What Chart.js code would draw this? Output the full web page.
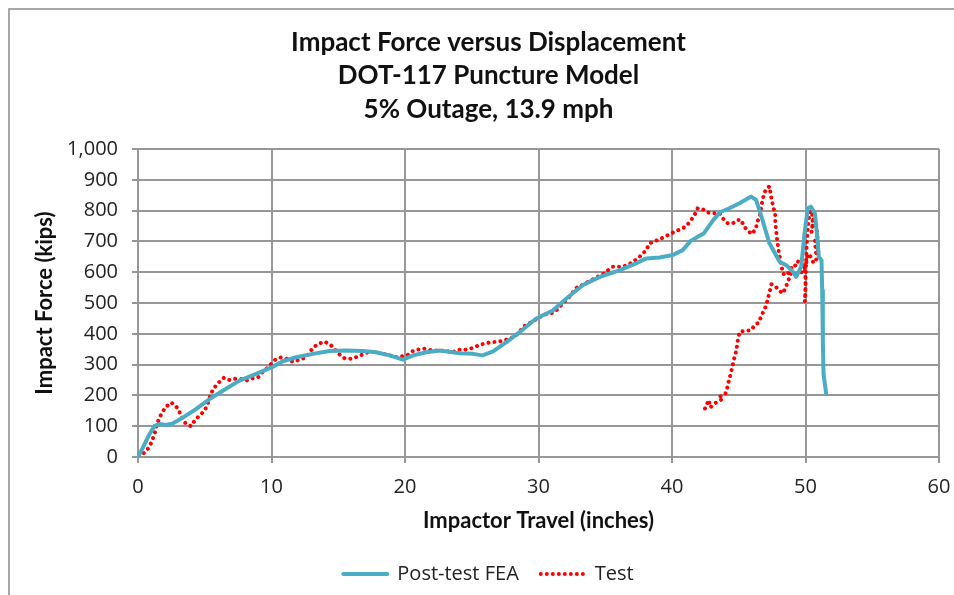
<!DOCTYPE html>
<html lang="en">
<head>
  <meta charset="UTF-8">
  <title>Impact Force versus Displacement</title>
  <script src="https://cdn.jsdelivr.net/npm/chart.js"></script>
  <style>
    body { margin: 0; padding: 0; background: #fff; }
    #wrap { width: 954px; height: 595px; }
  </style>
</head>
<body>
  <div id="wrap"><canvas id="forceChart" width="954" height="595"></canvas></div>

  <script>
    // Post-test FEA (inches, kips)
    const feaX = [0.04, 0.36, 0.86, 1.24, 1.61, 2.1, 2.6, 3.36, 4.36, 5.36, 6.35, 7.6, 8.85, 10.0, 10.85, 11.85,
      13.1, 14.35, 15.6, 16.84, 17.84, 18.84, 19.84, 20.6, 21.6, 22.6, 24.1, 25.1, 25.8, 26.6, 27.6, 28.6,
      29.8, 31.07, 32.07, 33.3, 34.6, 36.1, 37.3, 38.07, 39.06, 40.06, 40.8, 41.4, 42.4, 43.1, 43.6, 44.3,
      45.06, 45.93, 46.3, 46.7, 47.3, 48.06, 48.56, 49.06, 49.3, 49.68, 49.93, 50.17, 50.4, 50.7, 50.9,
      51.0, 51.2, 51.25, 51.3, 51.35, 51.55];
    const feaY = [3, 30, 74, 101, 107, 104, 109, 128, 156, 188, 215, 248, 270, 291, 311, 324,
      335, 344, 346, 344, 340, 330, 316, 330, 340, 346, 337, 335, 330, 343, 373, 406,
      449, 476, 514, 558, 585, 607, 629, 645, 648, 656, 672, 702, 727, 770, 795, 808,
      824, 846, 835, 781, 694, 634, 623, 601, 585, 618, 727, 808, 813, 792, 705,
      650, 639, 542, 378, 270, 205];

    // Test (inches, kips)
    const testX = [0.04, 0.49, 0.86, 1.06, 1.24, 1.36, 1.56, 1.81, 2.1, 2.49, 2.86, 3.1, 3.3, 3.6, 3.98, 4.23,
      4.56, 4.86, 5.16, 5.3, 5.48, 5.73, 6.05, 6.43, 6.85, 7.28, 7.73, 8.1, 8.55, 9.0, 9.35, 9.68,
      9.98, 10.28, 10.67, 11.17, 11.62, 12.15, 12.6, 12.85, 13.15, 13.55, 13.97, 14.42, 14.74, 15.04, 15.47, 15.97,
      16.46, 16.91, 17.34, 17.89, 18.34, 18.79, 19.21, 19.72, 20.16, 20.54, 20.99, 21.48, 21.96, 22.46, 23.03, 23.53,
      23.96, 24.46, 24.96, 25.66, 26.46, 27.08, 27.58, 28.2, 28.58, 28.82, 29.33, 29.83, 30.45, 31.07, 31.45, 31.82,
      32.32, 32.82, 33.32, 34.07, 34.82, 35.57, 36.2, 36.69, 37.44, 38.07, 38.31, 39.06, 39.57, 40.07, 40.49, 40.94,
      41.2, 41.44, 41.69, 41.93, 42.3, 42.68, 43.06, 43.56, 43.81, 44.18, 44.56, 44.94, 45.19, 45.37, 45.7, 45.96,
      46.26, 46.41, 46.59, 46.67, 46.79, 46.91, 47.04, 47.3, 47.37, 47.47, 47.62, 47.73, 47.73, 47.8, 47.85, 47.93,
      48.0, 48.1, 48.22, 48.3, 48.6, 48.9, 49.1, 49.3, 49.5, 49.7, 49.9, 50.0, 50.0, 49.95, 50.0, 50.05,
      50.1, 50.2, 50.35, 50.5, 50.55, 50.45, 50.6, 50.75, 50.85, 50.9, 50.95, 50.8, 50.7, 50.85, 50.9, 50.8,
      50.6, 50.4, 50.2, 50.0, 49.8, 49.5, 49.2, 48.93, 48.67, 48.5, 48.26, 48.0, 47.7, 47.45, 47.32, 47.2,
      47.07, 46.9, 46.7, 46.52, 46.19, 45.89, 45.51, 45.06, 44.94, 44.86, 44.76, 44.63, 44.51, 44.38, 44.25, 44.13,
      44.0, 43.56, 43.76, 43.39, 43.13, 42.88, 42.76, 42.51, 42.36];
    const testY = [3, 14, 33, 54, 74, 98, 123, 145, 163, 177, 164, 147, 126, 107, 100, 117,
      133, 145, 164, 185, 207, 226, 242, 257, 250, 254, 253, 248, 255, 259, 277, 289,
      302, 316, 323, 319, 309, 317, 324, 340, 357, 368, 375, 364, 350, 335, 321, 319,
      326, 335, 342, 340, 334, 332, 324, 327, 330, 343, 349, 352, 347, 346, 345, 340,
      348, 348, 353, 365, 373, 375, 381, 391, 406, 422, 435, 447, 463, 468, 480, 500,
      520, 549, 560, 577, 594, 618, 618, 623, 645, 672, 694, 707, 718, 729, 737, 746,
      757, 770, 786, 808, 805, 794, 792, 792, 775, 759, 759, 770, 770, 750, 735, 724,
      740, 765, 786, 808, 837, 855, 870, 879, 860, 835, 808, 786, 762, 737, 714, 688,
      667, 643, 618, 596, 590, 610, 625, 620, 640, 645, 620, 580, 540, 505, 560, 640,
      700, 760, 800, 790, 760, 730, 780, 770, 740, 710, 680, 660, 700, 720, 680, 640,
      630, 650, 660, 620, 600, 600, 590, 596, 569, 547, 531, 544, 555, 561, 538, 518,
      495, 476, 460, 438, 427, 411, 411, 406, 382, 359, 335, 316, 291, 268, 246, 224,
      205, 196, 188, 179, 172, 161, 185, 163, 141];

    const seriesNames = ['Post-test FEA', 'Test'];
    const titleLines = ['Impact Force versus Displacement', 'DOT-117 Puncture Model', '5% Outage, 13.9 mph'];
    const xTitle = 'Impactor Travel (inches)';
    const yTitle = 'Impact Force (kips)';

    const toPoints = (xs, ys) => xs.map((x, i) => ({ x: x, y: ys[i] }));

    const BOLD_FONT = 'Lato, "Open Sans", sans-serif';
    const TEXT_FONT = '"Open Sans", Lato, sans-serif';
    const gridColor = '#979797';

    // outer frame of the chart object
    const framePlugin = {
      id: 'frame',
      beforeDraw(chart) {
        const c = chart.ctx;
        c.save();
        c.fillStyle = '#fff';
        c.fillRect(0, 0, chart.width, chart.height);
        c.strokeStyle = '#8c8c8c';
        c.lineWidth = 1.5;
        c.strokeRect(9, 9, 2000, 2000);
        c.restore();
      }
    };

    new Chart(document.getElementById('forceChart'), {
      type: 'scatter',
      data: {
        datasets: [{
          label: seriesNames[0],
          data: toPoints(feaX, feaY),
          showLine: true,
          borderColor: '#4bacc6',
          backgroundColor: '#4bacc6',
          borderWidth: 4,
          borderCapStyle: 'round',
          borderJoinStyle: 'round',
          pointRadius: 0,
          tension: 0
        }, {
          label: seriesNames[1],
          data: toPoints(testX, testY),
          showLine: true,
          borderColor: '#ff0000',
          backgroundColor: '#ff0000',
          borderWidth: 4,
          borderDash: [0.01, 6],
          borderCapStyle: 'round',
          pointRadius: 0,
          tension: 0
        }]
      },
      options: {
        responsive: false,
        animation: false,
        layout: { padding: { left: 38, right: 15, top: 0, bottom: 1 } },
        scales: {
          x: {
            type: 'linear',
            min: 0,
            max: 60,
            afterFit(scale) { scale.height = 85; },
            ticks: { stepSize: 10, color: '#222', padding: 2,
              font: { family: TEXT_FONT, size: 20, lineHeight: 2.2 } },
            grid: { color: gridColor, lineWidth: 2, tickLength: 6 },
            border: { color: gridColor, width: 2 },
            title: {
              display: true, text: xTitle, color: '#111',
              font: { family: BOLD_FONT, size: 22, weight: 'bold', lineHeight: 1.2 },
              padding: { top: 8, bottom: 8 }
            }
          },
          y: {
            min: 0,
            max: 1000,
            afterFit(scale) { scale.width = 100; },
            ticks: { stepSize: 100, color: '#222', padding: 14, font: { family: TEXT_FONT, size: 20 },
              callback: v => v.toLocaleString('en-US') },
            grid: { color: gridColor, lineWidth: 2, tickLength: 6 },
            border: { color: gridColor, width: 2 },
            title: {
              display: true, text: yTitle, color: '#111',
              font: { family: BOLD_FONT, size: 22, weight: 'bold', lineHeight: 1.2 },
              padding: { top: -6, bottom: 0 }
            }
          }
        },
        plugins: {
          title: {
            display: true,
            text: titleLines,
            color: '#111',
            font: { family: BOLD_FONT, size: 26, weight: 'bold', lineHeight: 1.29 },
            padding: { top: 25.5, bottom: 23 }
          },
          legend: {
            position: 'bottom',
            labels: {
              usePointStyle: true,
              pointStyle: 'line',
              pointStyleWidth: 44,
              color: '#222',
              padding: 22,
              font: { family: TEXT_FONT, size: 20 },
              generateLabels(chart) {
                const items = Chart.defaults.plugins.legend.labels.generateLabels(chart);
                return items.map(item => {
                  const ds = chart.data.datasets[item.datasetIndex];
                  item.lineDash = ds.borderDash || [];
                  item.lineCap = ds.borderCapStyle;
                  item.lineWidth = ds.borderWidth;
                  return item;
                });
              }
            }
          },
          tooltip: { enabled: false }
        }
      },
      plugins: [framePlugin]
    });
  </script>
</body>
</html>
